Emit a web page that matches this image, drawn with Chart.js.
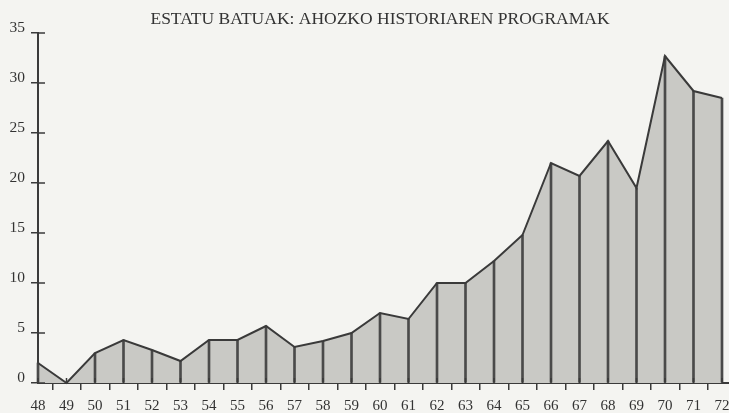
<!DOCTYPE html>
<html><head><meta charset="utf-8">
<script src="https://cdn.jsdelivr.net/npm/chart.js@4/dist/chart.umd.min.js"></script>
<style>html,body{margin:0;padding:0;background:#f4f4f1;}#wrap{width:729px;height:413px;}</style>
</head><body><div id="wrap"><canvas id="c" width="729" height="413"></canvas></div>
<script>
const years = ['48','49','50','51','52','53','54','55','56','57','58','59','60','61','62','63','64','65','66','67','68','69','70','71','72'];
const programs = [2, 0, 3, 4.3, 3.3, 2.2, 4.3, 4.3, 5.7, 3.6, 4.2, 5, 7, 6.4, 10, 10, 12.2, 14.8, 22, 20.7, 24.2, 19.5, 32.7, 29.2, 28.5];
const yMin = 0, yMax = 35, yStep = 5;
const chartTitle = 'ESTATU BATUAK: AHOZKO HISTORIAREN PROGRAMAK';

const ink = '#3a3a3a';
const serif = 'Liberation Serif';

const paperPlugin = {
  id: 'paper',
  beforeDraw(chart) {
    const ctx = chart.ctx;
    ctx.save();
    ctx.fillStyle = '#f4f4f1';
    ctx.fillRect(0, 0, chart.width, chart.height);
    ctx.restore();
  }
};

const crossTicks = {
  id: 'crossTicks',
  afterDraw(chart) {
    const ctx = chart.ctx;
    const xs = chart.scales.x, ys = chart.scales.y;
    const x0 = ys.right, y0 = xs.top;
    ctx.save();
    ctx.strokeStyle = ink;
    ctx.lineWidth = 1.5;
    ys.ticks.forEach((t, i) => {
      const y = ys.getPixelForTick(i);
      ctx.beginPath(); ctx.moveTo(x0, y); ctx.lineTo(x0 + 7, y); ctx.stroke();
    });
    xs.ticks.forEach((t, i) => {
      const x = xs.getPixelForTick(i);
      ctx.beginPath(); ctx.moveTo(x, y0); ctx.lineTo(x, y0 - 5); ctx.stroke();
    });
    ctx.lineWidth = 2;
    ctx.beginPath(); ctx.moveTo(chart.chartArea.right, y0); ctx.lineTo(chart.width, y0); ctx.stroke();
    ctx.restore();
  }
};

new Chart(document.getElementById('c'), {
  data: {
    labels: years,
    datasets: [
      { type: 'line', data: programs, fill: 'origin', backgroundColor: '#c9c9c5', borderWidth: 0, pointRadius: 0, tension: 0, order: 3 },
      { type: 'bar', data: programs, backgroundColor: '#4a4a4a', barThickness: 2, order: 2, clip: 6 },
      { type: 'line', data: programs, fill: false, borderColor: ink, borderWidth: 2, pointRadius: 0, tension: 0, order: 1, clip: 6 }
    ]
  },
  options: {
    responsive: false,
    animation: false,
    devicePixelRatio: 1,
    layout: { padding: { left: 0, right: 7, top: 0, bottom: 0 } },
    plugins: {
      legend: { display: false },
      tooltip: { enabled: false },
      title: {
        display: true,
        fullSize: false,
        text: chartTitle,
        color: '#333',
        font: { family: serif, size: 17.5, weight: 'normal' },
        padding: { top: 9.2, bottom: 2.8 }
      }
    },
    scales: {
      x: {
        type: 'category',
        offset: false,
        grid: { display: true, drawOnChartArea: false, drawTicks: true, tickLength: 7, color: ink, lineWidth: 1.5 },
        border: { display: true, color: ink, width: 2 },
        ticks: { color: '#333', font: { family: serif, size: 15 }, padding: 7, maxRotation: 0, autoSkip: false },
        afterFit(s) { s.height = 30; s.paddingLeft = 0; s.paddingRight = 0; }
      },
      y: {
        min: yMin, max: yMax,
        grid: { display: true, drawOnChartArea: false, drawTicks: true, tickLength: 7, color: ink, lineWidth: 1.5 },
        border: { display: true, color: ink, width: 2 },
        ticks: { stepSize: yStep, color: '#333', font: { family: serif, size: 15.5 }, padding: 6, labelOffset: -5 },
        afterFit(s) { s.width = 38; s.paddingTop = 0; s.paddingBottom = 0; }
      }
    }
  },
  plugins: [paperPlugin, crossTicks]
});
</script></body></html>
